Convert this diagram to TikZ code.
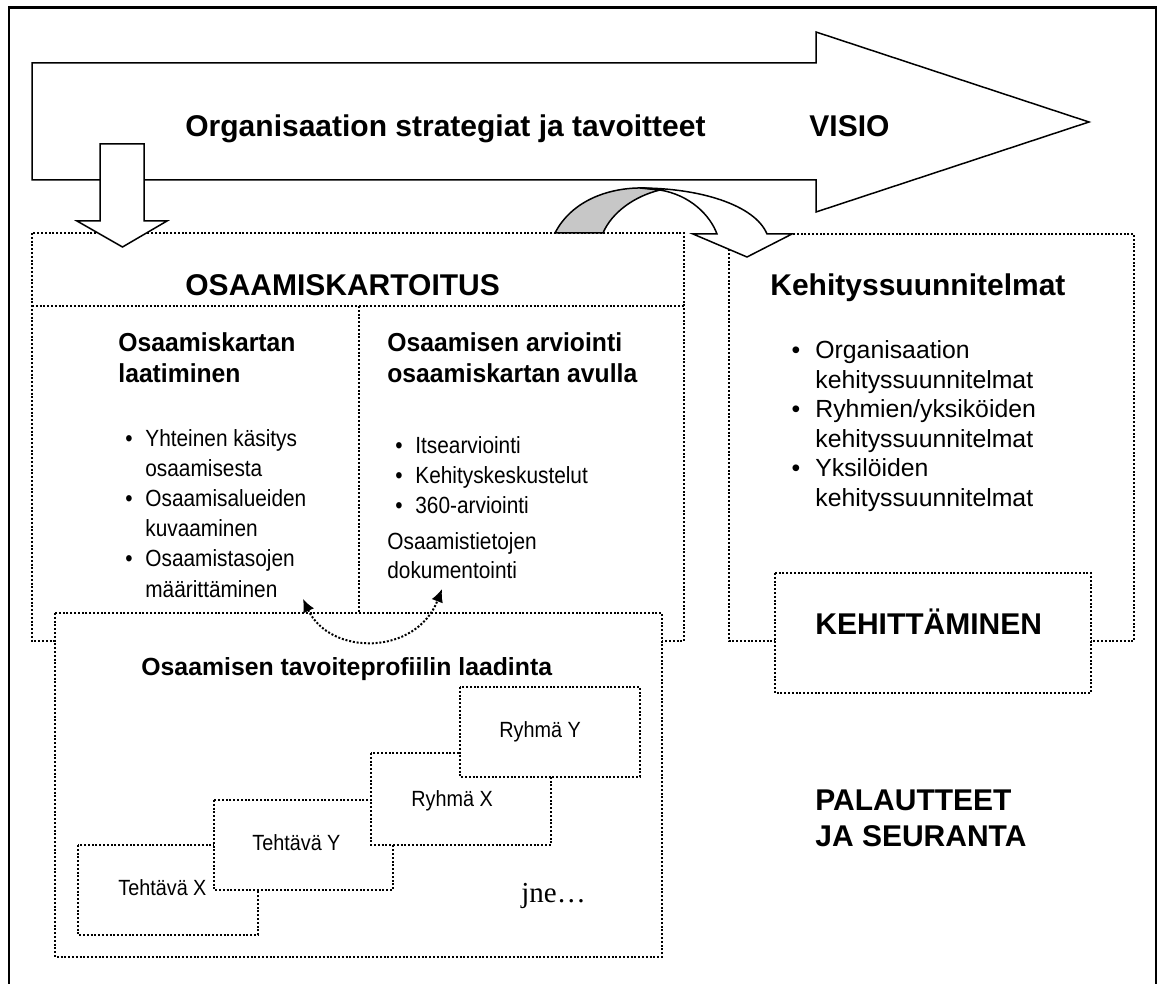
\documentclass[tikz,border=0pt]{standalone}
\usepackage{fontspec}
\setmainfont{Liberation Sans}
\newfontfamily\headnarrow[FakeStretch=0.95]{Liberation Sans}
\newfontfamily\bodynarrow[FakeStretch=0.89]{Liberation Sans}
\newfontfamily\stepnarrow[FakeStretch=0.9]{Liberation Sans}
\newfontfamily\jnefont{Liberation Serif}
\usetikzlibrary{arrows.meta}

\begin{document}
\begin{tikzpicture}[x=0.5pt,y=-0.5pt,
  frame/.style={line width=1.25pt},
  shapeline/.style={line width=0.75pt, line join=miter},
  dotbox/.style={draw, line width=1pt, dash pattern=on 1pt off 0.9pt, fill=white},
  dotline/.style={line width=1pt, dash pattern=on 1pt off 0.9pt},
  txt/.style={inner sep=0pt, anchor=base west},
  bigtxt/.style={txt, font=\bfseries\fontsize{15}{18}\selectfont},
  colhead/.style={txt, font=\headnarrow\bfseries\fontsize{13}{15}\selectfont},
  colbody/.style={txt, font=\bodynarrow\fontsize{11.7}{14}\selectfont},
  colbullet/.style={inner sep=0pt, anchor=base, font=\bodynarrow\fontsize{11.7}{14}\selectfont},
  rbody/.style={txt, font=\fontsize{12.4}{15}\selectfont},
  rbullet/.style={inner sep=0pt, anchor=base, font=\fontsize{12.4}{15}\selectfont},
  subtitle/.style={txt, font=\bfseries\fontsize{12.4}{15}\selectfont},
  steptxt/.style={txt, font=\stepnarrow\fontsize{11}{13}\selectfont},
]
\useasboundingbox (0,0) rectangle (1158,984);

% outer frame (open at the bottom of the page)
\draw[frame] (9,1010) -- (9,7.5) -- (1156,7.5) -- (1156,1010);

% strategy arrow
\draw[shapeline, fill=white] (32,63) -- (816,63) -- (816,32) -- (1089,122)
  -- (816,212) -- (816,180) -- (32,180) -- cycle;
\node[bigtxt] (strat) at (185,137) {Organisaation strategiat ja tavoitteet};
\node[bigtxt] (visio) at (809,137) {VISIO};

% competence mapping box
\draw[dotbox] (32,233) rectangle (684,641);
\draw[dotline] (32,306) -- (684,306);
\draw[dotline] (359,306) -- (359,613);

% development plans box
\draw[dotbox] (729,234) rectangle (1134,641);

% arrow down from the strategy
\draw[shapeline, fill=white] (100,144) -- (144,144) -- (144,221) -- (167,221)
  -- (122.5,247) -- (77,221) -- (100,221) -- cycle;

% curved arrow into the development plans
\draw[shapeline, fill=black!22] (555,233) .. controls (572,200) and (610,187) .. (645,188)
  -- (660,190) .. controls (635,196) and (612,212) .. (603,233) -- cycle;
\draw[shapeline, fill=white] (640,188) .. controls (700,188) and (755,205) .. (767,234)
  -- (792,234) -- (747,257) -- (693,234) -- (717,234)
  .. controls (710,215) and (690,195) .. (660,190) -- cycle;

% column texts
\node[bigtxt] (osk) at (185,296) {OSAAMISKARTOITUS};
\node[colhead] (lh1) at (118,352) {Osaamiskartan};
\node[colhead] (lh2) at (118,383) {laatiminen};
\node[colhead] (rh1) at (387,352) {Osaamisen arviointi};
\node[colhead] (rh2) at (387,383) {osaamiskartan avulla};

\node[colbullet] (lb1) at (129,447) {•};
\node[colbody] (l1) at (145,447) {Yhteinen käsitys};
\node[colbody] (l2) at (145,477) {osaamisesta};
\node[colbullet] (lb2) at (129,507) {•};
\node[colbody] (l3) at (145,507) {Osaamisalueiden};
\node[colbody] (l4) at (145,537) {kuvaaminen};
\node[colbullet] (lb3) at (129,567) {•};
\node[colbody] (l5) at (145,567) {Osaamistasojen};
\node[colbody] (l6) at (145,597) {määrittäminen};

\node[colbullet] (rb1) at (399,454) {•};
\node[colbody] (r1) at (415,454) {Itsearviointi};
\node[colbullet] (rb2) at (399,484) {•};
\node[colbody] (r2) at (415,484) {Kehityskeskustelut};
\node[colbullet] (rb3) at (399,514) {•};
\node[colbody] (r3) at (415,514) {360-arviointi};
\node[colbody] (r4) at (387,550) {Osaamistietojen};
\node[colbody] (r5) at (387,578.5) {dokumentointi};

% target profile box with the step boxes
\draw[dotbox] (55,613) rectangle (662,957);
\node[subtitle] (prof) at (141,675) {Osaamisen tavoiteprofiilin laadinta};
\draw[dotbox] (78,845) rectangle (258,935);
\draw[dotbox] (214,800) rectangle (393,890);
\draw[dotbox] (371,753) rectangle (551,845);
\draw[dotbox] (460,687) rectangle (640,777);
\node[steptxt] (tx) at (118,895) {Tehtävä X};
\node[steptxt] (ty) at (252,850) {Tehtävä Y};
\node[steptxt] (rx) at (411,806) {Ryhmä X};
\node[steptxt] (ry) at (499,737) {Ryhmä Y};
\node[txt, font=\jnefont\fontsize{14.5}{17}\selectfont] (jne) at (521,902) {jne…};

% two-way link between the columns
\coordinate (linkl) at (303,599);
\coordinate (linkr) at (442,589);
\draw[dotline, {Latex[length=6.5pt,width=6pt]}-{Latex[length=6.5pt,width=6pt]}]
  (linkl) .. controls (330,656) and (416,656) .. (linkr);

% development plans texts
\node[bigtxt] (kehs) at (770,296) {Kehityssuunnitelmat};
\node[rbullet] (kb1) at (796,359) {•};
\node[rbody] (k1) at (815,359) {Organisaation};
\node[rbody] (k2) at (815,388.5) {kehityssuunnitelmat};
\node[rbullet] (kb2) at (796,418) {•};
\node[rbody] (k3) at (815,418) {Ryhmien/yksiköiden};
\node[rbody] (k4) at (815,447.5) {kehityssuunnitelmat};
\node[rbullet] (kb3) at (796,477) {•};
\node[rbody] (k5) at (815,477) {Yksilöiden};
\node[rbody] (k6) at (815,506.5) {kehityssuunnitelmat};

\draw[dotbox] (775,573) rectangle (1091,693);
\node[bigtxt] (kehit) at (815,634.6) {KEHITTÄMINEN};

\node[bigtxt] (pal1) at (815,810) {PALAUTTEET};
\node[bigtxt] (pal2) at (815,846) {JA SEURANTA};
\end{tikzpicture}
\end{document}
